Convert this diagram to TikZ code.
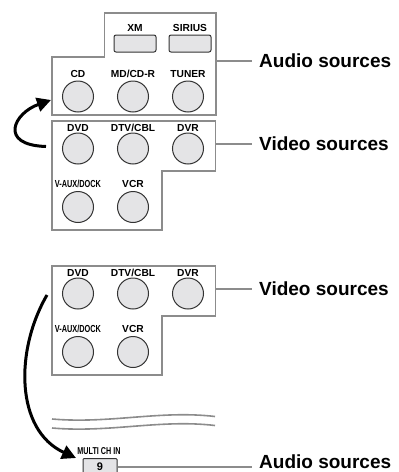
\documentclass[tikz,border=0pt]{standalone}
\usepackage{fontspec}
\setmainfont{Liberation Sans}
\usepackage{graphicx}
\usetikzlibrary{arrows.meta}
\definecolor{boxgray}{HTML}{8C8C8C}
\definecolor{knobfill}{HTML}{E4E4E6}
\tikzset{
  panel/.style={draw=boxgray, line width=1.8pt},
  knob/.style={circle, draw=black!80, fill=knobfill, line width=1pt, minimum size=31pt, inner sep=0pt},
  btn/.style={rectangle, rounded corners=2pt, draw=black!80, fill=knobfill, line width=1pt, minimum width=42pt, minimum height=17pt, inner sep=0pt},
  lbl/.style={font=\fontsize{10.2}{10.2}\selectfont\bfseries, inner sep=0pt},
  leader/.style={draw=boxgray, line width=1.6pt},
  src/.style={font=\fontsize{19}{19}\selectfont\bfseries, anchor=west, inner sep=0pt},
  bigarrow/.style={line width=3pt, -{Triangle[length=14pt,width=14pt]}},
  wave/.style={draw=boxgray, line width=1.6pt},
}
\newcommand{\cond}[1]{\scalebox{0.72}[1]{#1}}
\newcommand{\vidgroup}[2]{%
  \draw[panel] (52,{#1+121}) -- (215.5,{#1+121}) -- (215.5,{#1+171}) -- (162,{#1+171})
     -- (162,{#1+230}) -- (52,{#1+230}) -- cycle;
  \coordinate (#2edge) at (215.5,{#1+144});
  \node[lbl] (#2dvdl) at (78,{#1+128}) {DVD};
  \node[lbl] (#2dtvl) at (133,{#1+128}) {DTV/CBL};
  \node[lbl] (#2dvrl) at (188,{#1+128}) {DVR};
  \node[knob] (#2dvd) at (78,{#1+148.5}) {};
  \node[knob] (#2dtv) at (133,{#1+148.5}) {};
  \node[knob] (#2dvr) at (188,{#1+148.5}) {};
  \node[lbl] (#2vauxl) at (78,{#1+184}) {\cond{V-AUX/DOCK}};
  \node[lbl] (#2vcrl) at (133,{#1+184}) {VCR};
  \node[knob] (#2vaux) at (78,{#1+207}) {};
  \node[knob] (#2vcr) at (133,{#1+207}) {};
}
\begin{document}
\begin{tikzpicture}[x=1pt, y=-1pt]
\useasboundingbox (0,0) rectangle (399,472);

% audio panel (top)
\draw[panel] (104.5,13) -- (216,13) -- (216,115) -- (52,115) -- (52,57) -- (104.5,57) -- cycle;
\coordinate (audedge) at (216,61);
\node[lbl] (xml) at (135,28) {XM};
\node[lbl] (siriusl) at (190,28) {SIRIUS};
\node[btn] (xm) at (135,43.5) {};
\node[btn] (sirius) at (190,43.5) {};
\node[lbl] (cdl) at (78,74) {CD};
\node[lbl] (mdl) at (133,74) {MD/CD-R};
\node[lbl] (tunerl) at (188,74) {TUNER};
\node[knob] (cd) at (78,96.5) {};
\node[knob] (md) at (133,96.5) {};
\node[knob] (tuner) at (188,96.5) {};

% video panels
\vidgroup{0}{u}
\vidgroup{145}{w}

% source labels
\node[src] (audiolbl) at (259,61) {Audio sources};
\node[src] (videolbl) at (259,144) {Video sources};
\node[src] (videolbltwo) at (259,289) {Video sources};
\draw[leader] (audedge) -- ([xshift=-7pt]audiolbl.west);
\draw[leader] (uedge) -- ([xshift=-7pt]videolbl.west);
\draw[leader] (wedge) -- ([xshift=-7pt]videolbltwo.west);

% wavy break lines
\draw[wave] (52,419) .. controls (110,424) and (160,410) .. (215,416.5);
\draw[wave] (52,428) .. controls (110,433) and (160,419) .. (215,425.5);

% multi ch in
\node[lbl, font=\fontsize{10}{10}\selectfont\bfseries] (multil) at (99,451.5) {\cond{MULTI CH IN}};
\node[btn, minimum width=34pt, minimum height=17pt, rounded corners=1pt, font=\fontsize{11}{11}\selectfont\bfseries] (nine) at (100,467) {9};
\node[src] (audiolbltwo) at (259,462) {Audio sources};
\draw[leader] (nine.east) -- ([xshift=-7pt]audiolbltwo.west |- nine.east);

% arrows
\coordinate (atail) at (46,146.5);
\coordinate (ahead) at (51,100);
\draw[bigarrow] (atail) .. controls (-2,145) and (14,113) .. (ahead);
\coordinate (btail) at (47,295);
\coordinate (bhead) at (76,458);
\draw[bigarrow] (btail) .. controls (15,350) and (15,430) .. (bhead);
\end{tikzpicture}
\end{document}
